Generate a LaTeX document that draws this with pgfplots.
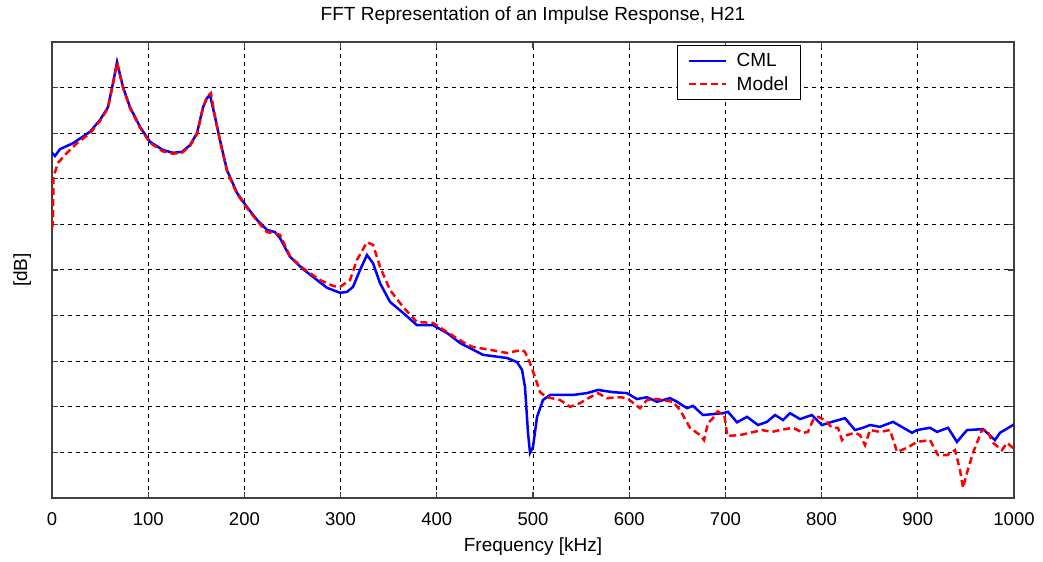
\documentclass[border=0pt]{standalone}
\usepackage{fontspec}
\setmainfont{Liberation Sans}
\usepackage{pgfplots}
\pgfplotsset{compat=1.18}

% Measured (CML) and modelled transfer function H21, magnitude in dB grid units
\pgfplotstableread{
x y
0 7.57
3.1 7.50
8.3 7.65
21.8 7.78
39.5 8.03
49.9 8.29
58.2 8.57
63.4 9.10
67.6 9.56
73.8 9.01
81.1 8.57
91.5 8.14
101.9 7.81
115.4 7.63
125.8 7.57
135.1 7.59
143.5 7.74
150.7 8.00
157 8.57
161.1 8.77
164.2 8.84
169.4 8.36
174.6 7.85
181.9 7.19
192.3 6.69
202.7 6.38
213.1 6.10
223.5 5.88
231.8 5.83
237 5.70
247.4 5.29
260.9 5.02
275.5 4.78
285.9 4.61
299.4 4.50
306.7 4.52
312.9 4.63
320.2 5.00
327.4 5.33
333.7 5.15
341 4.71
351.4 4.30
364.9 4.06
379.4 3.79
396 3.79
410.6 3.62
424.1 3.40
448 3.14
473 3.07
483.4 2.98
488.6 2.81
491.7 2.43
494.8 1.43
496.9 0.99
500 1.12
504.2 1.78
510.4 2.15
517.7 2.26
541.6 2.26
556.1 2.30
567.6 2.37
583.2 2.32
597.7 2.30
608.1 2.17
618.5 2.21
628.9 2.11
642.4 2.19
649.7 2.11
660.1 1.97
666.3 2.02
676.7 1.82
697.5 1.86
702.7 1.89
712.1 1.66
722.5 1.78
733.9 1.60
743.2 1.67
751.6 1.82
759.9 1.71
767.2 1.86
777.5 1.73
790 1.82
800.4 1.60
810.8 1.67
824.3 1.75
834.7 1.49
843 1.54
850.3 1.60
860.7 1.56
874.2 1.67
894 1.43
899.2 1.49
912.7 1.54
920 1.45
931.4 1.54
940.7 1.23
951.1 1.49
967.8 1.51
980.2 1.27
985.4 1.43
999 1.60
1000 1.62
}\cml

\pgfplotstableread{
x y
0 5.92
1 6.03
1.5 7.04
6.2 7.35
15.6 7.57
26 7.78
39.5 8.00
49.9 8.27
58.2 8.55
63.4 9.08
67.6 9.54
73.8 9.00
81.1 8.55
91.5 8.12
101.9 7.79
115.4 7.60
125.8 7.55
135.1 7.57
143.5 7.72
150.7 7.98
157 8.55
161.1 8.80
165.2 8.88
169.4 8.36
174.6 7.83
181.9 7.17
192.3 6.67
202.7 6.36
213.1 6.08
223.5 5.83
231.8 5.80
237 5.77
247.4 5.30
260.9 5.04
278.6 4.78
292.1 4.65
299.4 4.63
309.8 4.78
317 5.22
327.4 5.61
333.7 5.55
341 5.07
351.4 4.56
364.9 4.19
379.4 3.86
396 3.84
410.6 3.64
427.2 3.42
437.6 3.31
455.3 3.25
473 3.18
488.6 3.25
491.7 3.20
496.9 2.96
502.1 2.65
507.3 2.32
514.6 2.21
528.1 2.15
538.5 2.00
548.9 2.08
559.3 2.21
567.6 2.30
576.9 2.19
590.4 2.21
597.7 2.19
611.2 1.97
618.5 2.15
628.9 2.17
645.5 2.11
652.8 1.93
663.2 1.54
673.6 1.38
677.7 1.27
681.9 1.64
687 1.75
692 1.90
699 1.80
702 1.36
715.2 1.38
725.6 1.43
738.1 1.49
748.4 1.45
756.8 1.49
770.3 1.54
780.7 1.43
785.9 1.45
791.1 1.71
796.3 1.78
803.5 1.71
810.8 1.54
817 1.54
821.2 1.27
826.4 1.38
834.7 1.43
839.9 1.38
845.1 1.16
850.3 1.49
860.7 1.45
871.1 1.49
878.4 1.01
888.8 1.10
899.2 1.23
912.7 1.27
921 0.94
930.4 0.94
938.7 1.05
943.9 0.61
947 0.22
951.1 0.55
957.4 0.99
966.7 1.49
971.9 1.49
978.2 1.21
987.5 1.05
992.7 1.21
999 1.10
1000 1.10
}\model

\begin{document}
\begin{tikzpicture}
\begin{axis}[
  at={(0,0)}, anchor=south west,
  scale only axis, width=962bp, height=456bp,
  xmin=0, xmax=1000, ymin=0, ymax=10,
  xtick={0,100,...,1000}, ytick={1,...,9}, yticklabels={},
  tick align=inside, tick pos=both, major tick length=6bp,
  grid=major,
  grid style={dash pattern=on 4bp off 4bp, line width=1bp, black},
  axis line style={line width=1.2bp, black!75},
  every tick/.style={black!75, line width=1.2bp},
  font=\fontsize{19bp}{22bp}\selectfont,
  ticklabel style={font=\fontsize{18.5bp}{22bp}\selectfont},
  xticklabel style={anchor=base, yshift=-27bp},
  /pgf/number format/assume math mode=true,
  /pgf/number format/set thousands separator={},
  title={FFT Representation of an Impulse Response, H21},
  title style={at={(axis description cs:0.5,1.0351)}, anchor=base},
  xlabel={Frequency [kHz]},
  xlabel style={at={(axis description cs:0.5,-0.1184)}, anchor=base},
  ylabel={[dB]},
  ylabel style={at={(axis description cs:-0.031,0.5)}, anchor=center},
  legend style={at={(axis description cs:0.7786,0.9934)}, anchor=north east,
    draw=black, line width=1.2bp, fill=white,
    font=\fontsize{19bp}{22bp}\selectfont,
    inner xsep=10bp, inner ysep=6bp, row sep=4bp,
    cells={anchor=west}},
  legend image code/.code={%
    \draw[#1] (0bp,0bp) -- (37bp,0bp);
    \path[draw=none, fill=none] (0bp,-8bp) rectangle (46bp,8bp);},
]
\addplot[blue, line width=2.5bp, no markers] table {\cml};
\addlegendentry{CML}
\addplot[red, line width=2.5bp, no markers, dash pattern=on 7bp off 4bp] table {\model};
\addlegendentry{Model}
\end{axis}
\pgfresetboundingbox
\path[use as bounding box] (-52bp,-64bp) rectangle (991bp,498bp);
\end{tikzpicture}
\end{document}
